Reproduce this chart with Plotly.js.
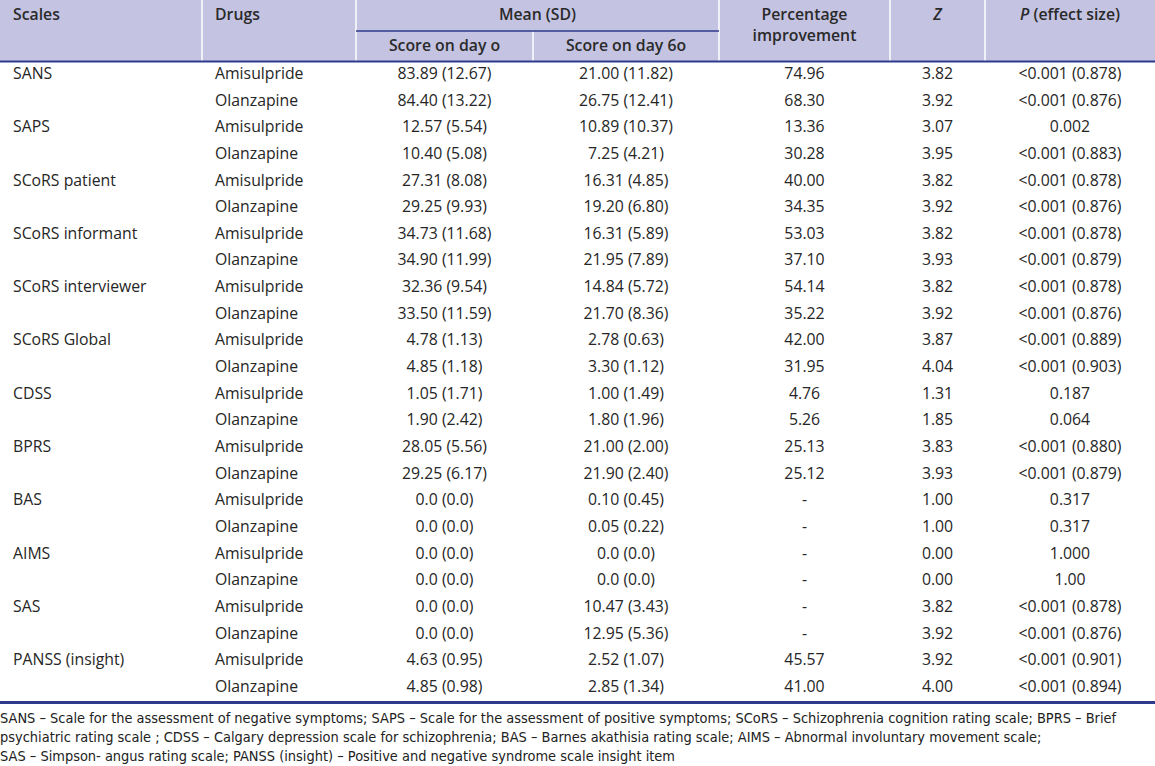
<!DOCTYPE html>
<html>
<head>
<meta charset="utf-8">
<script src="https://cdn.plot.ly/plotly-3.0.1.min.js"></script>
<style>html,body{margin:0;padding:0;background:#fff;}#chart{width:1155px;height:766px;}</style>
</head>
<body>
<div id="chart"></div>
<script>
// ---- data ----
const scales = ["SANS","","SAPS","","SCoRS patient","","SCoRS informant","","SCoRS interviewer","","SCoRS Global","","CDSS","","BPRS","","BAS","","AIMS","","SAS","","PANSS (insight)",""];
const drugs = ["Amisulpride","Olanzapine","Amisulpride","Olanzapine","Amisulpride","Olanzapine","Amisulpride","Olanzapine","Amisulpride","Olanzapine","Amisulpride","Olanzapine","Amisulpride","Olanzapine","Amisulpride","Olanzapine","Amisulpride","Olanzapine","Amisulpride","Olanzapine","Amisulpride","Olanzapine","Amisulpride","Olanzapine"];
const day0 = ["83.89 (12.67)","84.40 (13.22)","12.57 (5.54)","10.40 (5.08)","27.31 (8.08)","29.25 (9.93)","34.73 (11.68)","34.90 (11.99)","32.36 (9.54)","33.50 (11.59)","4.78 (1.13)","4.85 (1.18)","1.05 (1.71)","1.90 (2.42)","28.05 (5.56)","29.25 (6.17)","0.0 (0.0)","0.0 (0.0)","0.0 (0.0)","0.0 (0.0)","0.0 (0.0)","0.0 (0.0)","4.63 (0.95)","4.85 (0.98)"];
const day60 = ["21.00 (11.82)","26.75 (12.41)","10.89 (10.37)","7.25 (4.21)","16.31 (4.85)","19.20 (6.80)","16.31 (5.89)","21.95 (7.89)","14.84 (5.72)","21.70 (8.36)","2.78 (0.63)","3.30 (1.12)","1.00 (1.49)","1.80 (1.96)","21.00 (2.00)","21.90 (2.40)","0.10 (0.45)","0.05 (0.22)","0.0 (0.0)","0.0 (0.0)","10.47 (3.43)","12.95 (5.36)","2.52 (1.07)","2.85 (1.34)"];
const pctImprovement = ["74.96","68.30","13.36","30.28","40.00","34.35","53.03","37.10","54.14","35.22","42.00","31.95","4.76","5.26","25.13","25.12","-","-","-","-","-","-","45.57","41.00"];
const zValues = ["3.82","3.92","3.07","3.95","3.82","3.92","3.82","3.93","3.82","3.92","3.87","4.04","1.31","1.85","3.83","3.93","1.00","1.00","0.00","0.00","3.82","3.92","3.92","4.00"];
const pValues = ["<0.001 (0.878)","<0.001 (0.876)","0.002","<0.001 (0.883)","<0.001 (0.878)","<0.001 (0.876)","<0.001 (0.878)","<0.001 (0.879)","<0.001 (0.878)","<0.001 (0.876)","<0.001 (0.889)","<0.001 (0.903)","0.187","0.064","<0.001 (0.880)","<0.001 (0.879)","0.317","0.317","1.000","1.00","<0.001 (0.878)","<0.001 (0.876)","<0.001 (0.901)","<0.001 (0.894)"];
const headerTop = ["Scales","Drugs","Mean (SD)","Percentage<br>improvement","<i>Z</i>","<i>P</i> (effect size)"];
const headerSub = ["Score on day o","Score on day 6o"];
const footnote = [
 "SANS – Scale for the assessment of negative symptoms; SAPS – Scale for the assessment of positive symptoms; SCoRS – Schizophrenia cognition rating scale; BPRS – Brief",
 "psychiatric rating scale ; CDSS – Calgary depression scale for schizophrenia; BAS – Barnes akathisia rating scale; AIMS – Abnormal involuntary movement scale;",
 "SAS – Simpson- angus rating scale; PANSS (insight) – Positive and negative syndrome scale insight item"
];

// ---- layout geometry ----
const W = 1155, H = 766;
const row0 = 75, rowStep = 26.65;
const rowY = drugs.map((_, i) => row0 + i * rowStep);
const font = "Open Sans, Lato, sans-serif";
const txtColor = "#262626";
const fs = 15.8;

function col(x, texts, ys, pos, opts) {
  opts = opts || {};
  return {
    type: "scatter", mode: "text",
    x: texts.map(() => x), y: ys, text: texts,
    textposition: pos,
    textfont: {family: opts.family || font, size: opts.size || fs, color: opts.color || txtColor, weight: opts.weight || 400},
    hoverinfo: "skip", showlegend: false, cliponaxis: false
  };
}

const hdr = {weight: 600, color: "#2a2a2a", size: 15.8};

const traces = [
  col(13, scales, rowY, "middle right"),
  col(215, drugs, rowY, "middle right"),
  col(444.5, day0, rowY, "middle center"),
  col(626, day60, rowY, "middle center"),
  col(804.5, pctImprovement, rowY, "middle center"),
  col(937.5, zValues, rowY, "middle center"),
  col(1070, pValues, rowY, "middle center"),
  // header
  col(13, headerTop.slice(0,1), [16], "middle right", hdr),
  col(215, headerTop.slice(1,2), [16], "middle right", hdr),
  {type:"scatter", mode:"text", x:[537.5,804.5,937.5,1070], y:[16,26.5,16,16], text:headerTop.slice(2), textposition:"middle center",
   textfont:{family:font,size:hdr.size,color:hdr.color,weight:hdr.weight}, hoverinfo:"skip", showlegend:false, cliponaxis:false},
  {type:"scatter", mode:"text", x:[444.5,626], y:[47,47], text:headerSub, textposition:"middle center",
   textfont:{family:font,size:hdr.size,color:hdr.color,weight:hdr.weight}, hoverinfo:"skip", showlegend:false, cliponaxis:false},
  // footnote
  col(0, footnote, [719, 738.5, 757], "middle right", {family:"DejaVu Sans Condensed, Roboto, sans-serif", size:14.45, color:"#222"})
];

const navy = "#2e3a8c";
const hdrBg = "#c4c4e2";
const shapes = [
  {type:"rect", xref:"x", yref:"y", x0:0, x1:W, y0:0, y1:62, fillcolor:hdrBg, line:{width:0}, layer:"below"},
  ...[202,356,719,890,985].map(x => ({type:"line", xref:"x", yref:"y", x0:x, x1:x, y0:0, y1:62, line:{color:"#ffffff", width:1.5}})),
  {type:"line", xref:"x", yref:"y", x0:533, x1:533, y0:31, y1:62, line:{color:"#ffffff", width:1.5}},
  {type:"line", xref:"x", yref:"y", x0:356, x1:719, y0:31, y1:31, line:{color:navy, width:1.5}},
  {type:"line", xref:"x", yref:"y", x0:0, x1:W, y0:61.5, y1:61.5, line:{color:navy, width:1.8}},
  {type:"line", xref:"x", yref:"y", x0:0, x1:W, y0:702.5, y1:702.5, line:{color:navy, width:3}}
];

const layout = {
  width: W, height: H,
  margin: {l:0, r:0, t:0, b:0},
  paper_bgcolor: "#ffffff", plot_bgcolor: "#ffffff",
  xaxis: {range:[0, W], visible:false, fixedrange:true},
  yaxis: {range:[H, 0], visible:false, fixedrange:true},
  shapes: shapes,
  showlegend: false
};

Plotly.newPlot("chart", traces, layout, {staticPlot:true, displayModeBar:false});
</script>
</body>
</html>
